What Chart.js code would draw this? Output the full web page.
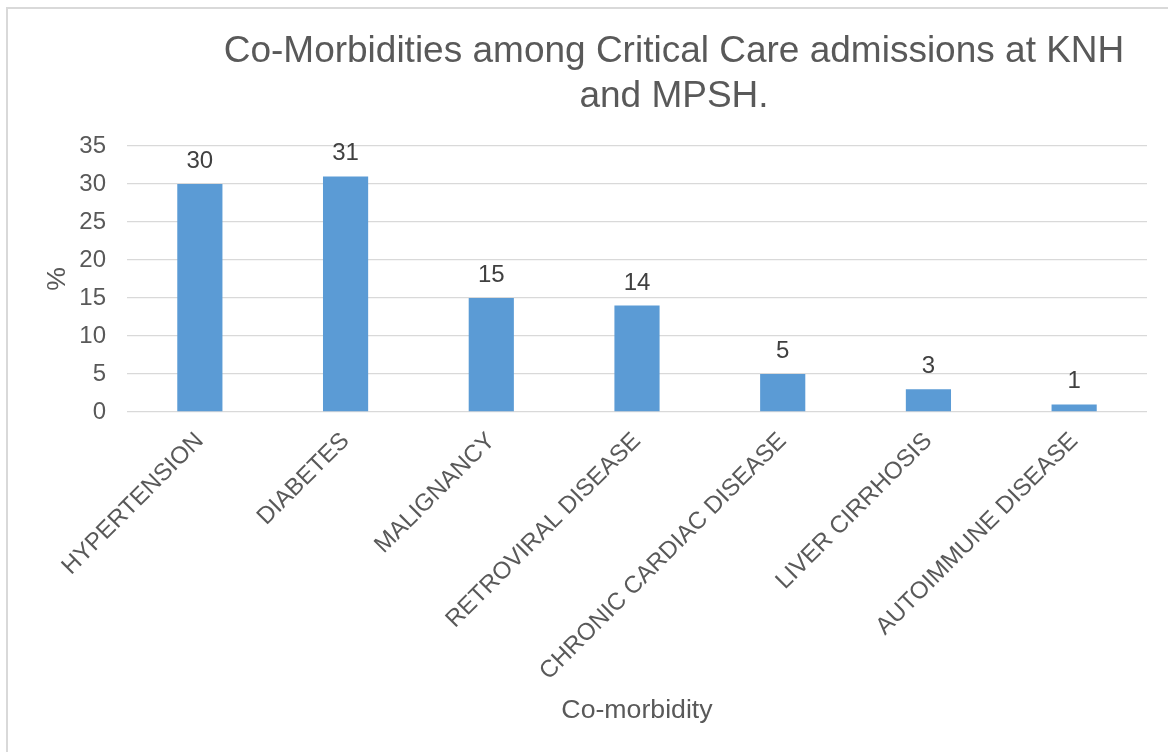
<!DOCTYPE html>
<html>
<head>
<meta charset="utf-8">
<title>Co-Morbidities among Critical Care admissions at KNH and MPSH.</title>
<script src="https://cdn.jsdelivr.net/npm/chart.js@4.4.1/dist/chart.umd.min.js"></script>
<style>
  html, body { margin: 0; padding: 0; background: #ffffff; }
  canvas { display: block; }
</style>
</head>
<body>
<canvas id="chart" width="1168" height="752"></canvas>
<script>
// Chart content
const categories = [
  'HYPERTENSION',
  'DIABETES',
  'MALIGNANCY',
  'RETROVIRAL DISEASE',
  'CHRONIC CARDIAC DISEASE',
  'LIVER CIRRHOSIS',
  'AUTOIMMUNE DISEASE'
];
const percentValues = [30, 31, 15, 14, 5, 3, 1];
const yTickValues = [0, 5, 10, 15, 20, 25, 30, 35];
const titleLines = ['Co-Morbidities among Critical Care admissions at KNH', 'and MPSH.'];
const xAxisTitle = 'Co-morbidity';
const yAxisTitle = '%';

const FONT = "'Liberation Sans', Arial, Helvetica, sans-serif";
const TEXT = '#595959';
const GRID = '#D9D9D9';
const BAR = '#5B9BD5';

// Light frame around the whole chart
const framePlugin = {
  id: 'frame',
  beforeDraw(chart) {
    const ctx = chart.ctx;
    ctx.save();
    ctx.fillStyle = '#ffffff';
    ctx.fillRect(0, 0, chart.width, chart.height);
    ctx.strokeStyle = GRID;
    ctx.lineWidth = 2;
    ctx.strokeRect(7, 8, chart.width + 40, chart.height + 40);
    ctx.restore();
  }
};

// Shift the chart title so it sits centred at a fixed horizontal position
const titleShiftPlugin = {
  id: 'titleShift',
  afterLayout(chart) {
    const tb = chart.titleBlock;
    if (tb) {
      const cx = 674;
      tb.left = cx - 480;
      tb.right = cx + 480;
    }
  }
};

// Value labels above each bar
const valueLabelPlugin = {
  id: 'valueLabels',
  afterDatasetsDraw(chart) {
    const ctx = chart.ctx;
    const meta = chart.getDatasetMeta(0);
    const data = chart.data.datasets[0].data;
    ctx.save();
    ctx.font = '24px ' + FONT;
    ctx.fillStyle = '#404040';
    ctx.textAlign = 'center';
    ctx.textBaseline = 'alphabetic';
    meta.data.forEach((bar, i) => {
      ctx.fillText(String(data[i]), bar.x, bar.y - 16);
    });
    ctx.restore();
  }
};

new Chart(document.getElementById('chart'), {
  type: 'bar',
  data: {
    labels: categories,
    datasets: [{
      data: percentValues,
      backgroundColor: BAR,
      borderWidth: 0,
      categoryPercentage: 1,
      barPercentage: 0.31
    }]
  },
  options: {
    responsive: false,
    animation: false,
    devicePixelRatio: 1,
    layout: { padding: { left: 0, right: 21, top: 0, bottom: 0 } },
    plugins: {
      legend: { display: false },
      tooltip: { enabled: false },
      title: {
        display: true,
        text: titleLines,
        color: TEXT,
        font: { family: FONT, size: 37, weight: 'normal', lineHeight: 1.2 },
        padding: { top: 30, bottom: 27.2 }
      }
    },
    scales: {
      x: {
        grid: { display: false, drawTicks: false },
        border: { display: false },
        ticks: {
          color: TEXT,
          font: { family: FONT, size: 24 },
          minRotation: 45,
          maxRotation: 45,
          autoSkip: false,
          padding: 15
        },
        title: {
          display: true,
          text: xAxisTitle,
          color: TEXT,
          font: { family: FONT, size: 26.7 },
          padding: { top: 0, bottom: 25 }
        },
        afterFit(scale) { scale.height = 340; }
      },
      y: {
        min: 0,
        max: 35,
        grid: { color: GRID, lineWidth: 1.3, drawTicks: false },
        border: { display: false },
        afterBuildTicks(scale) {
          scale.ticks = yTickValues.map(v => ({ value: v }));
        },
        ticks: {
          color: TEXT,
          font: { family: FONT, size: 24 },
          padding: 21
        },
        title: {
          display: true,
          text: yAxisTitle,
          color: TEXT,
          font: { family: FONT, size: 26.7 },
          padding: { top: 42, bottom: 0 }
        },
        afterFit(scale) { scale.width = 127; }
      }
    }
  },
  plugins: [framePlugin, titleShiftPlugin, valueLabelPlugin]
});
</script>
</body>
</html>
